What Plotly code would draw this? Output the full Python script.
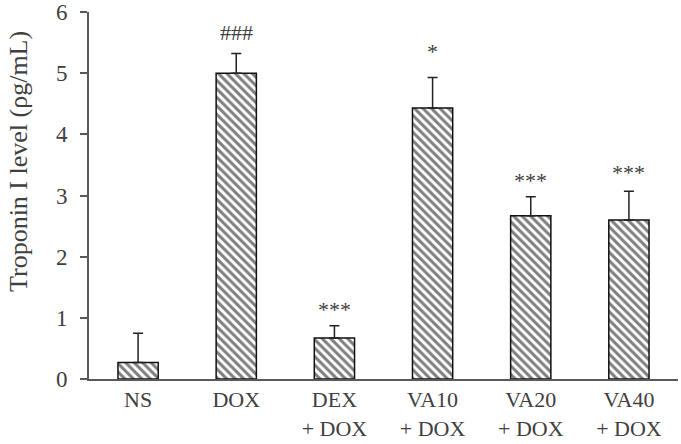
import plotly.graph_objects as go

categories = ["NS", "DOX", "DEX<br>+ DOX", "VA10<br>+ DOX", "VA20<br>+ DOX", "VA40<br>+ DOX"]
values = [0.27, 5.0, 0.67, 4.43, 2.67, 2.60]
errors = [0.48, 0.32, 0.20, 0.50, 0.31, 0.47]
marks = ["", "###", "***", "*", "***", "***"]
mark_shift = [0, 7, 2, 11, 2, 4]

fig = go.Figure()
fig.add_trace(go.Bar(
    x=categories, y=values, width=0.41,
    marker=dict(color="white", line=dict(color="#111111", width=1.5),
                pattern=dict(shape="\\", fgcolor="#000000", bgcolor="white",
                             size=6, solidity=0.5)),
    error_y=dict(type="data", array=errors, arrayminus=[0]*len(errors),
                 symmetric=False, color="#222222", thickness=1.5, width=5),
))

for c, v, e, m, s in zip(categories, values, errors, marks, mark_shift):
    if m:
        fig.add_annotation(x=c, y=v + e, text=m, showarrow=False,
                           yanchor="bottom", yshift=s,
                           font=dict(family="Liberation Serif", size=22, color="#404040"))

fig.add_annotation(xref="paper", yref="paper", x=-71/589, y=(379-162)/367,
                   text="Troponin I level (ρg/mL)", textangle=-90, showarrow=False,
                   xanchor="center", yanchor="middle",
                   font=dict(family="Liberation Serif", size=26, color="#404040"))

fig.update_layout(
    width=681, height=444,
    margin=dict(l=89, r=3, t=12, b=65),
    paper_bgcolor="white", plot_bgcolor="white",
    showlegend=False,
    font=dict(family="Liberation Serif", size=22, color="#404040"),
)
fig.update_xaxes(
    range=[-0.5, 5.5], showline=True, linecolor="#595959", linewidth=2,
    ticks="", ticklabelstandoff=0, tickfont=dict(size=22), automargin=False,
)
fig.update_yaxes(
    range=[0, 6], dtick=1, showline=True, linecolor="#595959", linewidth=2,
    ticks="outside", ticklen=7, tickwidth=2, tickcolor="#595959",
    showgrid=False, zeroline=False, ticklabelstandoff=8, tickfont=dict(size=23),
    automargin=False,
)

fig.write_html("out.html", post_script="document.body.style.margin='0';",
               config={"displayModeBar": False})
